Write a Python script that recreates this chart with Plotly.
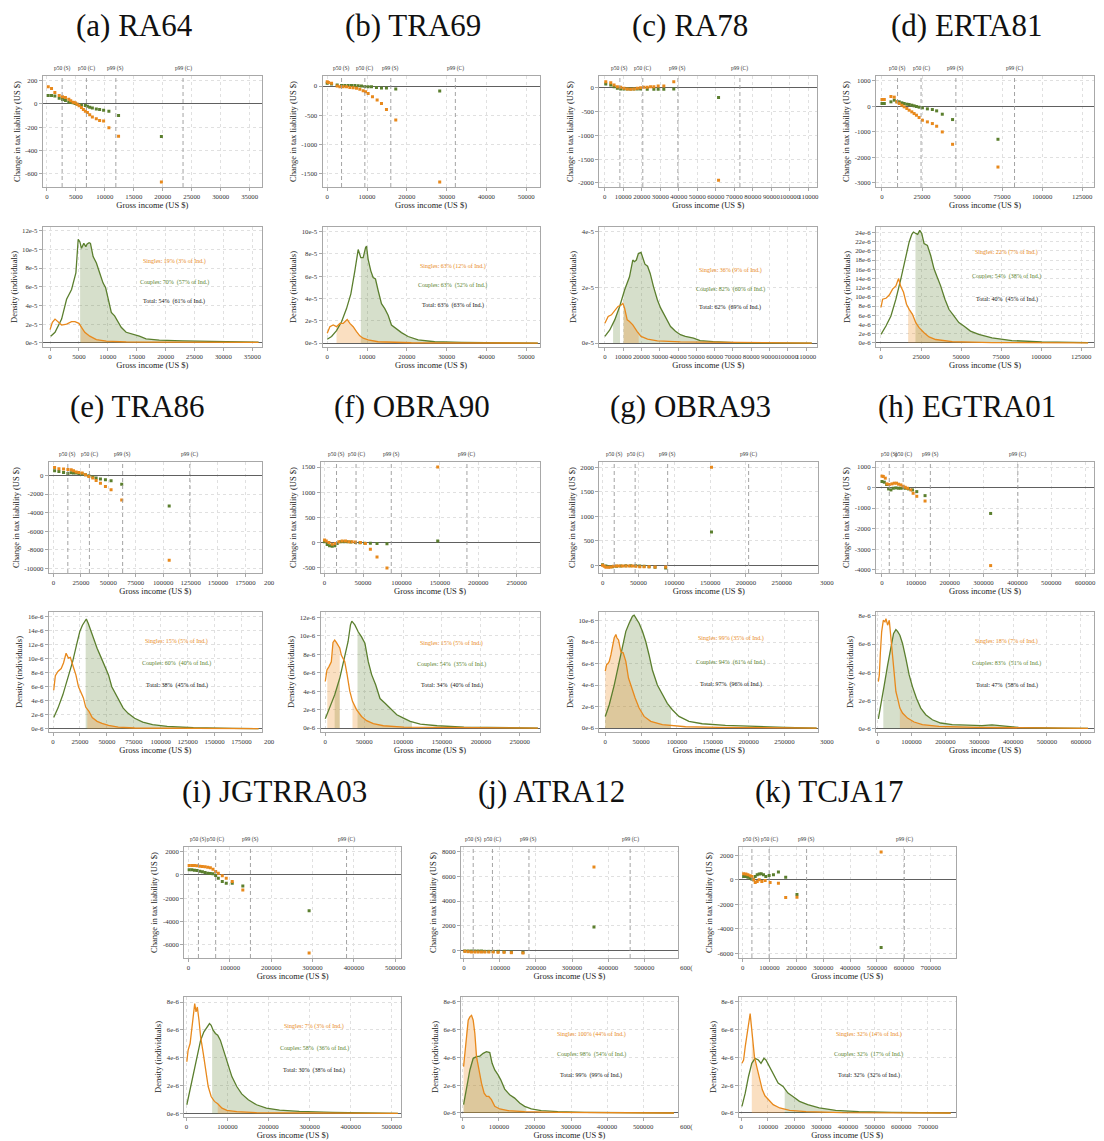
import numpy as np
import plotly.graph_objects as go

# ---------------- DATA ----------------
# (a) RA64
RA64_SX = [230, 800, 1375, 2120, 2690, 3200, 3780, 4120, 4520, 4870, 5210, 5560, 5960, 6300, 6640, 6990, 7390, 7850, 8530, 9100, 9790, 10700, 12370, 19760]
RA64_SY = [148, 133, 99, 72, 61, 55, 41, 26, 14, 9, -3, -17, -32, -49, -64, -75, -93, -113, -128, -142, -148, -206, -278, -672]
RA64_CX = [230, 800, 1375, 2120, 2690, 3200, 3780, 4120, 4520, 4870, 5210, 5960, 6640, 6990, 7390, 7850, 8530, 9100, 9790, 10700, 12370, 19760]
RA64_CY = [72, 72, 67, 49, 38, 29, 17, 12, 9, 3, -3, -9, -14, -20, -29, -35, -43, -49, -55, -64, -99, -281]
RA64_DCX = [115, 860, 2000, 2860, 3720, 4470, 4870, 5150, 5440, 5840, 6190, 6420, 6760, 6990, 7450, 8020, 8590, 9160, 9620, 10020, 10600, 11170, 11740, 12310, 13170, 14320, 15460, 16610, 18900, 22900, 28640, 36080]
RA64_DCY = [0.71, 1.13, 2.54, 4.66, 5.71, 7.48, 11.08, 10.83, 10.12, 10.65, 10.3, 10.58, 10.72, 10.65, 9.24, 8.54, 7.48, 6.42, 5.89, 4.66, 3.25, 2.89, 2.19, 1.66, 1.13, 0.95, 0.71, 0.42, 0.28, 0.21, 0.14, 0.07]
RA64_DSX = [0, 400, 860, 1430, 2000, 2860, 3720, 4300, 5000, 5440, 6010, 6870, 8020, 9740, 13170, 20050, 36080]
RA64_DSY = [1.41, 2.19, 2.54, 2.19, 1.9, 2.01, 2.26, 2.26, 2.08, 1.66, 1.13, 0.71, 0.35, 0.18, 0.1, 0.07, 0.04]
RA64_PCTL = [2630, 6820, 11900, 23500]
RA64_SHADE_S = [[5300, None]]
RA64_SHADE_C = [[5200, None]]
RA64_TXT = ["Singles: 19% (3% of Ind.)", "Couples: 70%  (57% of Ind.)", "Total: 54%  (61% of Ind.)"]

# (b) TRA69
TRA69_SX = [0, 300, 1090, 2500, 3180, 4010, 4850, 5690, 6520, 7360, 8190, 9030, 9620, 10280, 11370, 12540, 13630, 14880, 17220, 28260]
TRA69_SY = [74, 60, 46, 0, -11, -11, -11, -23, -29, -40, -57, -80, -97, -126, -183, -241, -298, -401, -584, -1644]
TRA69_CX = [0, 1090, 2500, 3600, 4430, 5270, 6100, 6940, 7780, 8610, 9450, 10280, 11120, 12370, 13630, 14880, 17220, 28260]
TRA69_CY = [46, 34, 17, 11, 11, 11, 11, 11, 6, 0, -6, -11, -11, -23, -34, -34, -52, -86]
TRA69_DCX = [0, 1090, 2340, 3600, 4850, 5940, 6940, 7780, 8440, 9030, 9620, 9870, 10280, 10950, 11540, 12120, 12790, 13630, 14460, 15300, 16140, 17390, 18650, 20320, 22830, 27010, 33700, 52900]
TRA69_DCY = [0.35, 0.59, 1.12, 1.91, 3.09, 4.41, 6.47, 8.38, 7.65, 7.65, 8.53, 8.68, 7.5, 6.47, 5.88, 5.74, 4.71, 3.53, 3.09, 2.5, 1.62, 1.24, 0.94, 0.59, 0.29, 0.12, 0.06, 0]
TRA69_DSX = [0, 670, 1510, 2340, 3180, 4010, 4430, 5020, 5690, 6520, 7360, 8190, 9030, 10280, 12790, 21150, 52900]
TRA69_DSY = [0.88, 1.47, 1.62, 1.47, 1.76, 1.76, 1.91, 2.12, 1.76, 1.47, 1.03, 0.65, 0.44, 0.29, 0.12, 0.03, 0]
TRA69_PCTL = [3600, 9450, 15970, 32190]
TRA69_SHADE_S = [[2340, None]]
TRA69_SHADE_C = [[8440, None]]
TRA69_TXT = ["Singles: 63% (12% of Ind.)", "Couples: 63%  (52% of Ind.)", "Total: 63%  (63% of Ind.)"]

# (c) RA78
RA78_SX = [540, 3230, 5020, 6810, 8600, 10390, 12190, 13980, 15770, 17560, 19350, 21150, 22940, 24730, 26520, 28850, 31900, 37270, 61470]
RA78_SY = [126, 105, 56, 21, 7, -14, -28, -35, -28, -14, 0, 7, 7, 21, 21, 35, 35, 126, -1944]
RA78_CX = [540, 3230, 5020, 6810, 8600, 10390, 12190, 13980, 15770, 17560, 19350, 22940, 26520, 28850, 31900, 37270, 61470]
RA78_CY = [77, 56, 21, -14, -28, -28, -28, -28, -28, -28, -28, -35, -35, -35, -35, -28, -204]
RA78_DCX = [0, 2690, 5390, 8080, 10770, 13460, 15260, 16160, 17200, 18310, 19750, 20640, 21900, 23340, 24770, 26570, 28720, 30520, 33210, 35900, 38590, 41290, 43980, 48470, 52060, 59240, 73600, 113100]
RA78_DCY = [0.24, 0.47, 0.83, 1.31, 1.9, 2.37, 2.97, 2.91, 2.97, 3.2, 3.24, 3.09, 2.82, 2.75, 2.49, 2.02, 1.54, 1.25, 0.89, 0.59, 0.42, 0.3, 0.24, 0.18, 0.09, 0.05, 0.01, 0]
RA78_DSX = [0, 1800, 3590, 5390, 7180, 8980, 9870, 10770, 12210, 13460, 15260, 17590, 19750, 23340, 28720, 41290, 113100]
RA78_DSY = [0.71, 0.95, 1.01, 1.16, 1.31, 1.36, 1.42, 1.25, 0.83, 0.77, 0.65, 0.42, 0.24, 0.14, 0.08, 0.04, 0]
RA78_PCTL = [8170, 20540, 39500, 73000]
RA78_SHADE_S = [[10230, 18490]]
RA78_SHADE_C = [[4490, 8270], [10230, None]]
RA78_TXT = ["Singles: 36% (9% of Ind.)", "Couples: 82%  (60% of Ind.)", "Total: 62%  (69% of Ind.)"]

# (d) ERTA81
ERTA81_SX = [0, 1450, 5590, 7660, 9310, 10760, 12410, 13860, 15520, 16970, 18620, 20070, 21520, 23170, 25240, 28350, 31450, 34140, 37660, 44070, 72420]
ERTA81_SY = [261, 261, 379, 353, 170, 105, 39, -26, -92, -157, -222, -288, -353, -444, -549, -614, -680, -784, -1007, -1490, -2379]
ERTA81_CX = [0, 1450, 5590, 7660, 9310, 10760, 12410, 13860, 15520, 16970, 18620, 20070, 21520, 23170, 25240, 28350, 31450, 34140, 37660, 44070, 72420]
ERTA81_CY = [105, 105, 170, 235, 170, 170, 131, 105, 78, 65, 39, 13, -13, -39, -65, -105, -131, -183, -314, -523, -1294]
ERTA81_DCX = [0, 3100, 6210, 9310, 12410, 15100, 17590, 19240, 20280, 21730, 22900, 24210, 25450, 26900, 28970, 31030, 33100, 34760, 37240, 39930, 42410, 45520, 48620, 51720, 55860, 61030, 69310, 81720, 100300, 129300]
ERTA81_DCY = [1.83, 3.66, 5.85, 9.5, 13.9, 18.3, 21.95, 23.6, 24.1, 23.8, 23.6, 24.5, 23.8, 21.6, 21.2, 19.0, 16.1, 14.6, 12.4, 9.5, 7.3, 5.85, 4.4, 3.66, 2.56, 1.83, 1.1, 0.5, 0.2, 0.07]
ERTA81_DSX = [0, 1030, 3100, 5170, 7240, 9310, 10970, 12210, 14070, 15930, 17590, 19660, 21730, 23790, 26900, 30000, 34140, 44480, 69310, 129300]
ERTA81_DSY = [7.7, 9.5, 9.7, 10.4, 11.7, 12.4, 14.0, 12.4, 11.0, 8.4, 7.3, 6.2, 4.4, 3.3, 2.2, 1.3, 0.73, 0.29, 0.07, 0]
ERTA81_PCTL = [9720, 24410, 46140, 82760]
ERTA81_SHADE_S = [[16970, None]]
ERTA81_SHADE_C = [[21520, None]]
ERTA81_TXT = ["Singles: 22% (7% of Ind.)", "Couples: 54%  (38% of Ind.)", "Total: 40%  (45% of Ind.)"]

# (e) TRA86
TRA86_SX = [967, 4910, 9150, 13090, 16120, 18250, 20670, 23100, 26130, 29160, 32190, 35830, 38860, 42800, 47340, 52490, 62190, 105500]
TRA86_SY = [863, 719, 683, 647, 612, 504, 360, 324, 252, 72, -108, -288, -540, -827, -1187, -1547, -2626, -9100]
TRA86_CX = [967, 4910, 9150, 13090, 16120, 18250, 20670, 23100, 26130, 29160, 32190, 35830, 38860, 42800, 47340, 52490, 62190, 105500]
TRA86_CY = [504, 432, 324, 216, 288, 252, 252, 216, 144, 72, -36, -180, -288, -396, -468, -576, -935, -3273]
TRA86_DCX = [600, 4550, 9090, 13640, 18180, 21820, 24850, 27270, 29690, 30900, 32730, 34850, 37880, 40900, 44850, 48480, 51510, 54540, 57570, 60600, 65150, 69690, 75750, 83320, 92410, 106000, 130300, 166700, 190900]
TRA86_DCY = [1.6, 2.95, 4.85, 7.2, 9.6, 12.0, 13.9, 14.8, 15.5, 15.7, 15.05, 14.1, 12.7, 11.5, 10.1, 8.7, 7.7, 6.0, 5.1, 4.4, 2.95, 2.2, 1.5, 0.95, 0.57, 0.33, 0.14, 0.05, 0]
TRA86_DSX = [600, 2120, 4550, 7580, 9700, 12120, 14240, 16060, 18180, 21210, 23630, 25750, 28180, 30300, 33330, 36360, 40900, 45450, 51510, 60600, 75750, 190900]
TRA86_DSY = [5.5, 7.6, 8.2, 8.6, 9.4, 10.8, 10.1, 10.2, 9.15, 7.7, 6.0, 5.3, 4.4, 3.1, 2.5, 1.6, 1.05, 0.76, 0.48, 0.24, 0.1, 0]
TRA86_PCTL = [13030, 32730, 63030, 124300]
TRA86_SHADE_S = [[31800, None]]
TRA86_SHADE_C = [[30300, None]]
TRA86_TXT = ["Singles: 15% (5% of Ind.)", "Couples: 60%  (40% of Ind.)", "Total: 38%  (45% of Ind.)"]

# (f) OBRA90
OBRA90_SX = [0, 2160, 5620, 9930, 14250, 18570, 22890, 27200, 31520, 35840, 40160, 46640, 53110, 59590, 68220, 81170, 147200]
OBRA90_SY = [47, 27, 0, -33, -20, 13, 27, 27, 13, 13, 7, 0, -20, -133, -287, -507, 1500]
OBRA90_CX = [0, 3450, 6480, 9930, 13380, 16400, 20720, 25040, 29360, 34000, 40160, 46000, 52250, 59590, 68220, 81170, 147200]
OBRA90_CY = [13, -40, -67, -73, -67, -20, 13, 13, 13, 7, 0, -7, -13, -13, -20, -27, 27]
OBRA90_DCX = [0, 5610, 12090, 18570, 25040, 29360, 32390, 34110, 38000, 42320, 46630, 50950, 55270, 59590, 64770, 70380, 76860, 83340, 91970, 100600, 109200, 122200, 143800, 178300, 273300]
OBRA90_DCY = [1.0, 2.16, 3.6, 5.4, 7.6, 9.4, 11.2, 11.6, 11.2, 10.45, 9.9, 9.2, 7.2, 5.8, 4.7, 3.2, 2.7, 2.16, 1.44, 1.08, 0.72, 0.43, 0.25, 0.11, 0]
OBRA90_DSX = [0, 2160, 4750, 7770, 9930, 12090, 14250, 16410, 18570, 20730, 22890, 25040, 28070, 31520, 34980, 40160, 46630, 53110, 61750, 74700, 100600, 273300]
OBRA90_DSY = [5.05, 6.3, 6.67, 7.2, 9.3, 9.55, 9.3, 9.0, 8.7, 7.9, 7.5, 7.2, 5.8, 4.0, 2.9, 2.0, 1.26, 0.8, 0.47, 0.25, 0.11, 0]
OBRA90_PCTL = [15540, 40930, 86780, 185200]
OBRA90_SHADE_S = [[2590, 18570], [34980, 111400]]
OBRA90_SHADE_C = [[12090, 18570], [41450, 111400]]
OBRA90_TXT = ["Singles: 15% (5% of Ind.)", "Couples: 54%  (35% of Ind.)", "Total: 34%  (40% of Ind.)"]

# (g) OBRA93
OBRA93_SX = [0, 2310, 4630, 8330, 11570, 15280, 19440, 23150, 27780, 32410, 37040, 41670, 46300, 51850, 57870, 64810, 73150, 87960, 151900]
OBRA93_SY = [0, -20, -41, -41, -34, -20, -14, -14, -14, -14, -14, -14, -20, -27, -27, -27, -34, -34, 2000]
OBRA93_CX = [0, 4630, 9260, 13890, 19440, 25460, 32410, 39350, 46300, 51850, 57870, 64810, 73150, 87960, 151900]
OBRA93_CY = [14, -14, -27, -27, -20, -14, -7, -7, -7, -14, -20, -27, -41, -54, 680]
OBRA93_DCX = [0, 5560, 12500, 19440, 24070, 28700, 33330, 37960, 40280, 43520, 47220, 51850, 56480, 61110, 65740, 72690, 79630, 86570, 93520, 102800, 116700, 135200, 167600, 204600, 250900, 294900]
OBRA93_DCY = [1.08, 2.17, 4.0, 6.2, 7.7, 9.0, 9.75, 10.4, 10.5, 10.1, 9.75, 9.0, 8.05, 6.8, 5.4, 4.0, 3.1, 2.3, 1.7, 1.08, 0.62, 0.4, 0.25, 0.15, 0.06, 0]
OBRA93_DSX = [0, 1850, 3700, 5560, 7870, 10190, 12500, 14810, 16200, 18520, 21760, 25000, 28700, 32410, 37040, 41670, 47220, 54170, 63430, 79630, 112000, 158300, 294900]
OBRA93_DSY = [5.3, 5.9, 6.0, 6.2, 6.8, 7.7, 8.4, 8.7, 8.4, 8.2, 7.1, 7.0, 6.2, 4.65, 3.7, 2.8, 1.86, 1.08, 0.62, 0.31, 0.12, 0.06, 0]
OBRA93_PCTL = [16200, 45370, 90740, 203700]
OBRA93_SHADE_S = [[0, 91670]]
OBRA93_SHADE_C = [[0, 91670]]
OBRA93_TXT = ["Singles: 99% (35% of Ind.)", "Couples: 94%  (61% of Ind.)", "Total: 97%  (96% of Ind.)"]

# (h) EGTRA01
EGTRA01_SX = [0, 3910, 9790, 14680, 21530, 29360, 36200, 43050, 48930, 55770, 62620, 68500, 75350, 85130, 91980, 102700, 127200, 320900]
EGTRA01_SY = [557, 541, 459, 180, 148, 180, 213, 213, 164, 131, 66, 16, -33, -115, -279, -426, -656, -3803]
EGTRA01_CX = [0, 6850, 13700, 19570, 26420, 33270, 41100, 48930, 55770, 62620, 69480, 78280, 90020, 102700, 127200, 320900]
EGTRA01_CY = [295, 262, 148, -66, -115, -33, -16, -33, -33, -16, -33, -66, -115, -197, -393, -1262]
EGTRA01_DCX = [1960, 9790, 19570, 29360, 39140, 46970, 53820, 58710, 65560, 73390, 83170, 92960, 102700, 114500, 127200, 141900, 161500, 185900, 220200, 259300, 308200, 337600, 366900, 415900, 533300, 621400]
EGTRA01_DCY = [0.68, 1.68, 3.09, 4.5, 5.92, 6.75, 7.03, 6.9, 6.63, 6.04, 4.98, 3.8, 2.97, 2.15, 1.44, 0.97, 0.61, 0.38, 0.26, 0.21, 0.19, 0.24, 0.19, 0.07, 0.02, 0]
EGTRA01_DSX = [1960, 4890, 7830, 11740, 16630, 21530, 24460, 29360, 34250, 39140, 44030, 48930, 53820, 58710, 65560, 73390, 88070, 107600, 132100, 181000, 288700, 621400]
EGTRA01_DSY = [3.33, 3.8, 5.33, 6.87, 7.69, 7.58, 7.81, 7.34, 7.69, 6.4, 4.98, 3.56, 2.62, 2.15, 1.44, 1.09, 0.73, 0.45, 0.26, 0.14, 0.07, 0]
EGTRA01_PCTL = [21530, 62620, 142900, 401200]
EGTRA01_SHADE_S = [[65560, None]]
EGTRA01_SHADE_C = [[16630, None]]
EGTRA01_TXT = ["Singles: 18% (7% of Ind.)", "Couples: 83%  (51% of Ind.)", "Total: 47%  (58% of Ind.)"]

# (i) JGTRRA03
JGTRRA03_SX = [1600, 8010, 14420, 20830, 27240, 33650, 40060, 46480, 52890, 59300, 65700, 72120, 81730, 91350, 105800, 131400, 291700]
JGTRRA03_SY = [806, 806, 806, 777, 748, 719, 691, 662, 604, 489, 288, 144, -86, -288, -576, -1295, -6705]
JGTRRA03_CX = [1600, 8010, 14420, 20830, 27240, 33650, 40060, 46480, 52890, 59300, 65700, 72120, 81730, 91350, 105800, 131400, 291700]
JGTRRA03_CY = [432, 432, 403, 374, 317, 259, 201, 144, 115, 86, -58, -288, -576, -719, -719, -950, -3079]
JGTRRA03_DCX = [800, 10420, 18430, 26440, 34460, 42470, 48880, 56090, 60100, 64910, 70520, 76120, 82530, 90540, 100200, 110600, 122600, 134600, 150600, 170700, 194700, 226800, 274800, 355000, 515200]
JGTRRA03_DCY = [0.62, 1.93, 3.12, 4.31, 5.26, 5.86, 6.1, 6.45, 6.33, 5.98, 5.74, 5.62, 5.26, 4.55, 3.6, 2.64, 1.93, 1.4, 0.98, 0.62, 0.38, 0.24, 0.14, 0.07, 0]
JGTRRA03_DSX = [800, 4010, 8810, 12820, 16830, 20030, 23240, 26440, 30450, 34460, 40870, 46480, 52890, 60100, 68110, 76120, 86540, 98560, 122600, 170700, 515200]
JGTRRA03_DSY = [3.71, 4.55, 5.02, 5.98, 6.69, 7.88, 7.29, 7.64, 6.69, 5.5, 4.31, 3.12, 1.93, 1.21, 0.86, 0.69, 0.38, 0.21, 0.12, 0.05, 0]
JGTRRA03_PCTL = [24040, 65700, 149800, 382200]
JGTRRA03_SHADE_S = [[76120, None]]
JGTRRA03_SHADE_C = [[62500, None]]
JGTRRA03_TXT = ["Singles: 7% (3% of Ind.)", "Couples: 58%  (36% of Ind.)", "Total: 30%  (38% of Ind.)"]

# (j) ATRA12
ATRA12_SX = [2760, 11970, 21180, 30390, 39600, 48800, 58010, 69060, 81030, 94840, 111400, 131700, 163900, 360900]
ATRA12_SY = [-54, -81, -107, -107, -107, -107, -107, -107, -107, -134, -134, -161, -188, 6738]
ATRA12_CX = [2760, 11970, 21180, 30390, 39600, 48800, 58010, 69060, 81030, 94840, 111400, 131700, 163900, 360900]
ATRA12_CY = [-27, -27, -27, -27, -27, -27, -54, -54, -54, -54, -81, -107, -134, 1906]
ATRA12_DCX = [1840, 10130, 19340, 28540, 37750, 47000, 56170, 65380, 74580, 81030, 88400, 97610, 105000, 116000, 129800, 143600, 157500, 171300, 189700, 217300, 263300, 337000, 585600]
ATRA12_DCY = [0.6, 1.67, 3.1, 3.94, 4.06, 4.1, 4.3, 4.42, 4.35, 3.58, 3.1, 2.75, 2.39, 1.72, 1.31, 1.07, 0.72, 0.48, 0.29, 0.17, 0.1, 0.05, 0]
ATRA12_DSX = [1840, 5520, 10130, 14730, 19340, 23940, 28540, 33150, 37750, 44200, 51560, 58930, 65380, 71820, 79190, 88400, 102200, 125200, 171300, 263300, 585600]
ATRA12_DSY = [3.34, 4.3, 5.97, 6.69, 6.93, 7.04, 6.69, 5.73, 4.06, 3.1, 2.15, 1.43, 1.19, 1.19, 0.96, 0.48, 0.29, 0.17, 0.1, 0.05, 0]
ATRA12_PCTL = [25780, 79190, 180500, 461300]
ATRA12_SHADE_S = [[1840, 175900]]
ATRA12_SHADE_C = [[1840, 175900]]
ATRA12_TXT = ["Singles: 100% (44% of Ind.)", "Couples: 98%  (54% of Ind.)", "Total: 99%  (99% of Ind.)"]

# (k) TCJA17
TCJA17_SX = [3700, 12330, 19730, 28360, 34520, 40690, 46850, 54250, 61650, 71510, 83840, 102300, 133200, 160300, 202200, 515400]
TCJA17_SY = [491, 464, 409, 327, 273, 0, -218, -136, 0, -136, -55, -218, -273, -1446, -1419, 2265]
TCJA17_CX = [3700, 12330, 19730, 28360, 34520, 40690, 46850, 54250, 61650, 69050, 77680, 86310, 98640, 114700, 133200, 160300, 202200, 515400]
TCJA17_CY = [273, 273, 218, 136, 55, 0, 273, 409, 464, 491, 409, 273, 355, 409, 627, 218, -1200, -5511]
TCJA17_DCX = [2470, 14800, 27130, 39460, 51790, 64120, 73980, 85080, 92480, 104800, 119600, 138100, 156600, 175100, 193600, 218200, 249100, 292200, 353900, 440200, 563500, 785400]
TCJA17_DCY = [0.48, 1.43, 2.63, 3.58, 3.94, 3.82, 3.58, 3.94, 3.82, 3.34, 2.87, 2.15, 1.91, 1.43, 1.19, 0.84, 0.6, 0.36, 0.19, 0.1, 0.05, 0]
TCJA17_DSX = [2470, 8630, 14800, 20960, 27130, 33290, 38220, 43160, 49320, 57950, 67820, 78910, 88780, 101100, 119600, 144300, 181300, 242900, 378500, 785400]
TCJA17_DSY = [3.58, 3.82, 4.78, 5.49, 6.45, 7.16, 6.21, 5.01, 4.06, 3.34, 2.51, 1.67, 1.24, 0.96, 0.6, 0.36, 0.19, 0.1, 0.02, 0]
TCJA17_PCTL = [34520, 98640, 238000, 601700]
TCJA17_SHADE_S = [[39460, 162800]]
TCJA17_SHADE_C = [[162800, None]]
TCJA17_TXT = ["Singles: 32% (14% of Ind.)", "Couples: 32%  (17% of Ind.)", "Total: 32%  (32% of Ind.)"]

PCTL_LABELS = ["p50 (S)", "p50 (C)", "p99 (S)", "p99 (C)"]

# ---------------- LAYOUT CONFIG ----------------
PANELS = [
    dict(title="(a) RA64", d=(RA64_SX, RA64_SY, RA64_CX, RA64_CY, RA64_DSX, RA64_DSY, RA64_DCX, RA64_DCY, RA64_PCTL, RA64_SHADE_S, RA64_SHADE_C, RA64_TXT),
         row=0, xpx=(43, 263), sxr=[-700, 37100], syr=[-715, 240], sxt=(0, 35000, 5000), syt=(-600, 200, 200),
         dxr=[-1250, 36650], dyr=[-0.45, 12.4], dyt=(0, 12, 2), exp=5, ann=[0.71, 0.54, 0.38]),
    dict(title="(b) TRA69", d=(TRA69_SX, TRA69_SY, TRA69_CX, TRA69_CY, TRA69_DSX, TRA69_DSY, TRA69_DCX, TRA69_DCY, TRA69_PCTL, TRA69_SHADE_S, TRA69_SHADE_C, TRA69_TXT),
         row=0, xpx=(324, 542), sxr=[-1170, 53340], syr=[-1730, 172], sxt=(0, 50000, 10000), syt=(-1500, 0, 500),
         dxr=[-1170, 53340], dyr=[-0.35, 10.4], dyt=(0, 10, 2), exp=5, ann=[0.675, 0.51, 0.35]),
    dict(title="(c) RA78", d=(RA78_SX, RA78_SY, RA78_CX, RA78_CY, RA78_DSX, RA78_DSY, RA78_DCX, RA78_DCY, RA78_PCTL, RA78_SHADE_S, RA78_SHADE_C, RA78_TXT),
         row=0, xpx=(602, 821), sxr=[-2960, 114800], syr=[-2085, 245], sxt=(0, 110000, 10000), syt=(-2000, 0, 500),
         dxr=[-3050, 116100], dyr=[-0.14, 4.15], dyt=(0, 4, 2), exp=5, ann=[0.64, 0.48, 0.33]),
    dict(title="(d) ERTA81", d=(ERTA81_SX, ERTA81_SY, ERTA81_CX, ERTA81_CY, ERTA81_DSX, ERTA81_DSY, ERTA81_DCX, ERTA81_DCY, ERTA81_PCTL, ERTA81_SHADE_S, ERTA81_SHADE_C, ERTA81_TXT),
         row=0, xpx=(880, 1099), sxr=[-3720, 132400], syr=[-3160, 1180], sxt=(0, 125000, 25000), syt=(-3000, 1000, 1000),
         dxr=[-3100, 133000], dyr=[-0.9, 25.2], dyt=(0, 24, 2), exp=6, ann=[0.79, 0.59, 0.40]),
    dict(title="(e) TRA86", d=(TRA86_SX, TRA86_SY, TRA86_CX, TRA86_CY, TRA86_DSX, TRA86_DSY, TRA86_DCX, TRA86_DCY, TRA86_PCTL, TRA86_SHADE_S, TRA86_SHADE_C, TRA86_TXT),
         row=1, xpx=(49, 263), sxr=[-4300, 190000], syr=[-10470, 1440], sxt=(0, 175000, 25000), syt=(-10000, 0, 2000),
         dxr=[-3940, 193900], dyr=[-0.47, 16.7], dyt=(0, 16, 2), exp=6, ann=[0.756, 0.57, 0.39], cut="200"),
    dict(title="(f) OBRA90", d=(OBRA90_SX, OBRA90_SY, OBRA90_CX, OBRA90_CY, OBRA90_DSX, OBRA90_DSY, OBRA90_DCX, OBRA90_DCY, OBRA90_PCTL, OBRA90_SHADE_S, OBRA90_SHADE_C, OBRA90_TXT),
         row=1, xpx=(322, 542), sxr=[-5220, 279700], syr=[-607, 1600], sxt=(0, 250000, 50000), syt=(-500, 1500, 500),
         dxr=[-6050, 275500], dyr=[-0.43, 12.6], dyt=(0, 12, 2), exp=6, ann=[0.74, 0.565, 0.39]),
    dict(title="(g) OBRA93", d=(OBRA93_SX, OBRA93_SY, OBRA93_CX, OBRA93_CY, OBRA93_DSX, OBRA93_DSY, OBRA93_DCX, OBRA93_DCY, OBRA93_PCTL, OBRA93_SHADE_S, OBRA93_SHADE_C, OBRA93_TXT),
         row=1, xpx=(602, 822), sxr=[-4630, 300900], syr=[-156, 2109], sxt=(0, 250000, 50000), syt=(0, 2000, 500),
         dxr=[-8330, 297200], dyr=[-0.37, 10.8], dyt=(0, 10, 2), exp=6, ann=[0.78, 0.58, 0.40], cut="3000"),
    dict(title="(h) EGTRA01", d=(EGTRA01_SX, EGTRA01_SY, EGTRA01_CX, EGTRA01_CY, EGTRA01_DSX, EGTRA01_DSY, EGTRA01_DCX, EGTRA01_DCY, EGTRA01_PCTL, EGTRA01_SHADE_S, EGTRA01_SHADE_C, EGTRA01_TXT),
         row=1, xpx=(880, 1099), sxr=[-17600, 626200], syr=[-4164, 1246], sxt=(0, 600000, 100000), syt=(-4000, 1000, 1000),
         dxr=[-4890, 639000], dyr=[-0.26, 8.28], dyt=(0, 8, 2), exp=6, ann=[0.756, 0.57, 0.39]),
    dict(title="(i) JGTRRA03", d=(JGTRRA03_SX, JGTRRA03_SY, JGTRRA03_CX, JGTRRA03_CY, JGTRRA03_DSX, JGTRRA03_DSY, JGTRRA03_DCX, JGTRRA03_DCY, JGTRRA03_PCTL, JGTRRA03_SHADE_S, JGTRRA03_SHADE_C, JGTRRA03_TXT),
         row=2, xpx=(185, 403), sxr=[-10400, 514400], syr=[-7140, 2390], sxt=(0, 500000, 100000), syt=(-6000, 2000, 2000),
         dxr=[-5600, 523300], dyr=[-0.26, 8.36], dyt=(0, 8, 2), exp=6, ann=[0.756, 0.57, 0.39]),
    dict(title="(j) ATRA12", d=(ATRA12_SX, ATRA12_SY, ATRA12_CX, ATRA12_CY, ATRA12_DSX, ATRA12_DSY, ATRA12_DCX, ATRA12_DCY, ATRA12_PCTL, ATRA12_SHADE_S, ATRA12_SHADE_C, ATRA12_TXT),
         row=2, xpx=(463, 681), sxr=[-8290, 593900], syr=[-590, 8350], sxt=(0, 500000, 100000), syt=(0, 8000, 2000),
         dxr=[-5520, 596700], dyr=[-0.29, 8.36], dyt=(0, 8, 2), exp=6, ann=[0.69, 0.52, 0.35], cut="600("),
    dict(title="(k) TCJA17", d=(TCJA17_SX, TCJA17_SY, TCJA17_CX, TCJA17_CY, TCJA17_DSX, TCJA17_DSY, TCJA17_DCX, TCJA17_DCY, TCJA17_PCTL, TCJA17_SHADE_S, TCJA17_SHADE_C, TCJA17_TXT),
         row=2, xpx=(742, 960), sxr=[-14800, 792800], syr=[-6360, 2670], sxt=(0, 700000, 100000), syt=(-6000, 2000, 2000),
         dxr=[-9860, 803900], dyr=[-0.29, 8.36], dyt=(0, 8, 2), exp=6, ann=[0.69, 0.52, 0.35]),
]

ROW_SC = [(76, 187), (462, 573), (847, 958)]
ROW_DE = [(227, 347), (612, 732), (997, 1117)]
TITLE_Y = [25.5, 406, 791]

# the page body adds an 8px margin: the figure is placed at (8, 8)
OFF = 8
W, H = 1104 - OFF, 1141 - OFF
ORANGE = "#E8891C"
GREEN = "#5B7F2E"
FILL_O = "rgba(240,150,50,0.30)"
FILL_G = "rgba(91,127,46,0.25)"
FONT = "Liberation Serif"
TICKF = dict(family=FONT, size=6.8, color="#333333")
TITLEF = dict(family=FONT, size=8.5, color="#222222")


def fx(p):
    return (p - OFF) / W


def fy(p):
    return 1 - (p - OFF) / H


def rng(t):
    a, b, s = t
    return list(range(a, b + 1, s))


def shade(x, y, lo, hi):
    x = np.asarray(x, float)
    y = np.asarray(y, float)
    hi = x[-1] if hi is None else hi
    lo = max(lo, x[0])
    inner = (x > lo) & (x < hi)
    xs = np.concatenate([[lo], x[inner], [hi]])
    ys = np.interp(xs, x, y)
    return xs, ys


def base_axis():
    return dict(showline=True, mirror=True, linecolor="#a8a8a8", linewidth=1,
                showgrid=True, gridcolor="#e0e0e0", griddash="dot", gridwidth=1,
                ticks="outside", ticklen=3, tickcolor="#a8a8a8", tickfont=TICKF,
                zeroline=False, tickangle=0)


fig = go.Figure()
layout = dict(width=W, height=H, margin=dict(l=0, r=0, t=0, b=0),
              paper_bgcolor="white", plot_bgcolor="white", showlegend=False)
annotations = []
shapes = []

for i, p in enumerate(PANELS):
    sx, sy, cx, cy, dsx, dsy, dcx, dcy, pct, sh_s, sh_c, txt = p["d"]
    si, di = 2 * i + 1, 2 * i + 2
    xs_name = "x" if si == 1 else f"x{si}"
    ys_name = "y" if si == 1 else f"y{si}"
    xd_name, yd_name = f"x{di}", f"y{di}"
    xdom = [fx(p["xpx"][0]), fx(p["xpx"][1])]
    r = p["row"]

    # ---- scatter panel ----
    fig.add_trace(go.Scatter(x=cx, y=cy, mode="markers", xaxis=xs_name, yaxis=ys_name,
                             marker=dict(symbol="square", size=3, color=GREEN)))
    fig.add_trace(go.Scatter(x=sx, y=sy, mode="markers", xaxis=xs_name, yaxis=ys_name,
                             marker=dict(symbol="square", size=3, color=ORANGE)))

    xa = base_axis()
    xv = rng(p["sxt"])
    xa.update(domain=xdom, anchor=ys_name, range=p["sxr"], tickvals=xv, ticktext=[str(v) for v in xv],
              title=dict(text="Gross income (US $)", font=TITLEF, standoff=1))
    ya = base_axis()
    yv = rng(p["syt"])
    ya.update(domain=[fy(ROW_SC[r][1]), fy(ROW_SC[r][0])], anchor=xs_name, range=p["syr"],
              tickvals=yv, ticktext=[str(v) for v in yv], zeroline=True, zerolinecolor="#606060",
              zerolinewidth=1.2, title=dict(text="Change in tax liability (US $)", font=TITLEF, standoff=3))
    layout["xaxis" if si == 1 else f"xaxis{si}"] = xa
    layout["yaxis" if si == 1 else f"yaxis{si}"] = ya

    for v, lab in zip(pct, PCTL_LABELS):
        shapes.append(dict(type="line", xref=xs_name, yref=f"{ys_name} domain", x0=v, x1=v, y0=0, y1=1,
                           line=dict(color="#9a9a9a", width=0.9, dash="4px,3px"), layer="above"))
        annotations.append(dict(xref=xs_name, yref=f"{ys_name} domain", x=v, y=1, xanchor="center",
                                yanchor="bottom", yshift=2, text=lab, showarrow=False,
                                font=dict(family=FONT, size=5.5, color="#333")))

    # ---- density panel ----
    for lo, hi in sh_c:
        X, Y = shade(dcx, dcy, lo, hi)
        fig.add_trace(go.Scatter(x=X, y=Y, mode="none", fill="tozeroy", fillcolor=FILL_G,
                                 xaxis=xd_name, yaxis=yd_name, hoverinfo="skip"))
    for lo, hi in sh_s:
        X, Y = shade(dsx, dsy, lo, hi)
        fig.add_trace(go.Scatter(x=X, y=Y, mode="none", fill="tozeroy", fillcolor=FILL_O,
                                 xaxis=xd_name, yaxis=yd_name, hoverinfo="skip"))
    fig.add_trace(go.Scatter(x=dcx, y=dcy, mode="lines", line=dict(color=GREEN, width=1.3),
                             xaxis=xd_name, yaxis=yd_name))
    fig.add_trace(go.Scatter(x=dsx, y=dsy, mode="lines", line=dict(color=ORANGE, width=1.3),
                             xaxis=xd_name, yaxis=yd_name))

    xa = base_axis()
    xa.update(domain=xdom, anchor=yd_name, range=p["dxr"], tickvals=xv, ticktext=[str(v) for v in xv],
              title=dict(text="Gross income (US $)", font=TITLEF, standoff=1))
    ya = base_axis()
    dv = rng(p["dyt"])
    ya.update(domain=[fy(ROW_DE[r][1]), fy(ROW_DE[r][0])], anchor=xd_name, range=p["dyr"],
              tickvals=dv, ticktext=[f"{v}e-{p['exp']}" for v in dv], zeroline=True,
              zerolinecolor="#606060", zerolinewidth=1.2,
              title=dict(text="Density (individuals)", font=TITLEF, standoff=3))
    layout[f"xaxis{di}"] = xa
    layout[f"yaxis{di}"] = ya

    cols = [ORANGE, GREEN, "#111111"]
    for t, yy, c in zip(txt, p["ann"], cols):
        annotations.append(dict(xref=f"{xd_name} domain", yref=f"{yd_name} domain", x=0.6, y=yy,
                                xanchor="center", yanchor="middle",
                                text=t, showarrow=False, font=dict(family=FONT, size=6, color=c)))

    # ---- panel title (centred on the whole sub-graph incl. axis titles) ----
    tx = (p["xpx"][0] + p["xpx"][1]) / 2 - 18
    annotations.append(dict(xref="paper", yref="paper", x=fx(tx), y=fy(TITLE_Y[r]),
                            text=p["title"], showarrow=False, xanchor="center", yanchor="middle",
                            font=dict(family=FONT, size=31, color="#111")))

    # ---- clipped last tick label at right edge ----
    if "cut" in p:
        for rows in (ROW_SC, ROW_DE):
            annotations.append(dict(xref="paper", yref="paper", x=xdom[1], y=fy(rows[r][1] + 4),
                                    xanchor="left", yanchor="top", text=p["cut"], showarrow=False,
                                    font=TICKF))

layout["annotations"] = annotations
layout["shapes"] = shapes
fig.update_layout(**layout)
fig.write_html("out.html")
